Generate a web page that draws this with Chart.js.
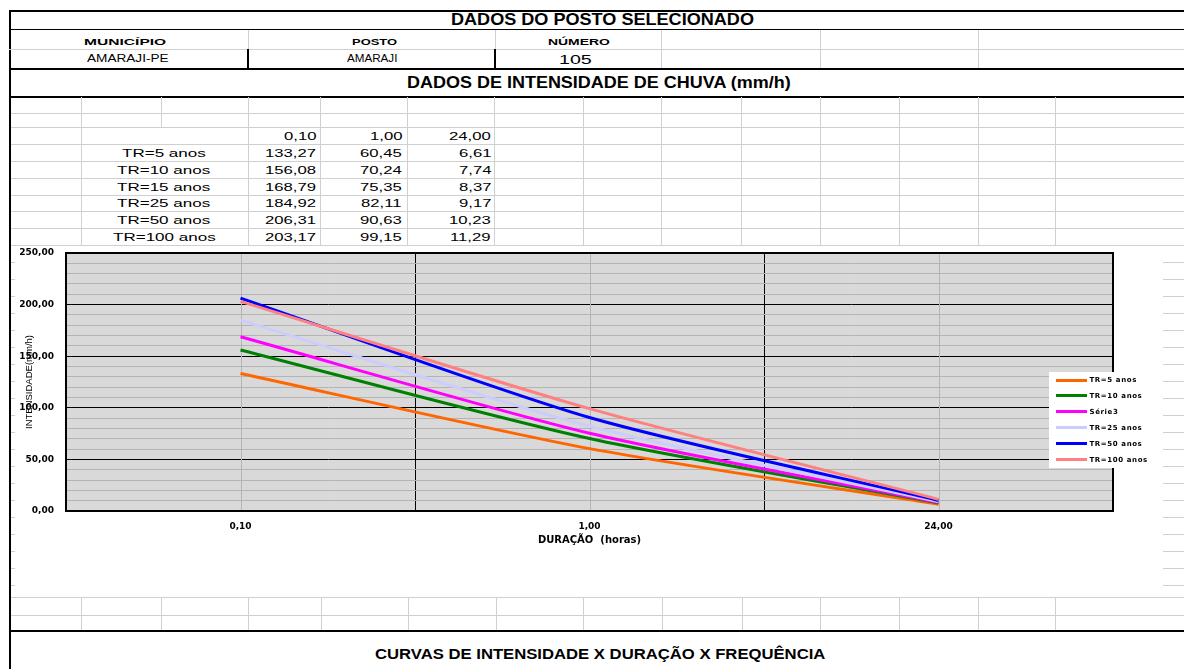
<!DOCTYPE html>
<html>
<head>
<meta charset="utf-8">
<script src="https://cdn.jsdelivr.net/npm/chart.js@4.4.0/dist/chart.umd.min.js"></script>
<style>
html,body{margin:0;padding:0;background:#fff;overflow:hidden;}
#page{position:relative;width:1184px;height:669px;overflow:hidden;font-family:"Liberation Sans",Arial,sans-serif;color:#000;}
.ln{position:absolute;}
.tx{position:absolute;white-space:nowrap;}
#wrap{position:absolute;left:15px;top:246px;width:1148px;height:345px;background:#fff;}
#legenda{position:absolute;left:1049px;top:372px;width:98px;height:96px;background:#fff;}
</style>
</head>
<body>
<div id="page"></div>
<script>
(function(){

// dados do posto
const duracoes = ["0,10", "1,00", "24,00"];
const nomesTabela = ["TR=5 anos", "TR=10 anos", "TR=15 anos", "TR=25 anos", "TR=50 anos", "TR=100 anos"];
const series = ["TR=5 anos", "TR=10 anos", "Série3", "TR=25 anos", "TR=50 anos", "TR=100 anos"];
const tr5   = [133.27, 60.45, 6.61];
const tr10  = [156.08, 70.24, 7.74];
const tr15  = [168.79, 75.35, 8.37];
const tr25  = [184.92, 82.11, 9.17];
const tr50  = [206.31, 90.63, 10.23];
const tr100 = [203.17, 99.15, 11.29];
const valores = [tr5, tr10, tr15, tr25, tr50, tr100];
const cores = ["#ff6600", "#008000", "#ff00ff", "#ccccff", "#0000ff", "#ff8080"];

const page = document.getElementById("page");
const CINZA = "#d0d0d0";

function hl(y, x1, x2, cor, esp){
  const d = document.createElement("div");
  d.className = "ln";
  d.style.cssText = `left:${x1}px;top:${y - esp/2}px;width:${x2 - x1}px;height:${esp}px;background:${cor}`;
  page.appendChild(d);
}
function vl(x, y1, y2, cor, esp){
  const d = document.createElement("div");
  d.className = "ln";
  d.style.cssText = `left:${x - esp/2}px;top:${y1}px;width:${esp}px;height:${y2 - y1}px;background:${cor}`;
  page.appendChild(d);
}
// texto com esticamento horizontal (a planilha aparece esticada)
function tx(str, x, y, fonte, alin, largura, sx){
  const s = document.createElement("span");
  s.className = "tx";
  s.textContent = str;
  s.style.font = fonte;
  s.style.lineHeight = "20px";
  s.style.top = (y - 10) + "px";
  page.appendChild(s);
  const w = s.offsetWidth;
  const k = largura ? largura / w : (sx || 1);
  const wk = w * k;
  let left = x;
  if(alin === "c") left = x - wk/2;
  if(alin === "r") left = x - wk;
  s.style.left = left + "px";
  s.style.transformOrigin = "0 50%";
  s.style.transform = `scaleX(${k})`;
}

// ---- grade da planilha ----
hl(10.5, 9, 1184, "#000", 2);
vl(10, 10, 669, "#000", 2);
hl(29.5, 9, 1184, "#000", 1);
hl(49, 9, 1184, CINZA, 1);
[248, 495].forEach(x => { vl(x, 30, 49, CINZA, 1); vl(x, 49, 68, "#000", 2); });
[661, 820, 978].forEach(x => vl(x, 30, 68, CINZA, 1));
hl(68.5, 9, 1184, "#000", 2);
hl(96.5, 9, 1184, "#000", 2);

const linhas = [113, 127.5, 144.5, 161.5, 178, 195, 211.5, 228.5, 245.5];
linhas.forEach(y => hl(y, 11, 1184, CINZA, 1));
const colunas = [81, 248, 320, 407, 494, 583, 661, 741, 820, 899, 978, 1055];
colunas.forEach(x => vl(x, 97, 246, CINZA, 1));
vl(161, 97, 127.5, CINZA, 1);

for(let y = 262; y < 592; y += 17.05) hl(y, 11, 1184, CINZA, 1);
hl(597.5, 11, 1184, CINZA, 1);
hl(615, 11, 1184, CINZA, 1);
[81, 161, 248, 321, 408, 496, 583, 662, 742, 820, 899, 978, 1055].forEach(x => vl(x, 597, 630, CINZA, 1));
hl(630.5, 9, 1184, "#000", 2);

// ---- textos ----
tx("DADOS DO POSTO SELECIONADO", 602.5, 20, "bold 17px 'Liberation Sans'", "c", 303);
tx("MUNICÍPIO", 124.5, 42, "bold 9.5px 'Liberation Sans'", "c", 82);
tx("POSTO", 374, 42, "bold 9.5px 'Liberation Sans'", "c", 45);
tx("NÚMERO", 578.5, 42, "bold 9.5px 'Liberation Sans'", "c", 61.6);
tx("AMARAJI-PE", 128, 59, "10px 'Liberation Sans'", "c", 81.6);
tx("AMARAJI", 371.7, 59, "10px 'Liberation Sans'", "c", 50);
tx("105", 575.5, 59.5, "12.5px 'Liberation Sans'", "c", 33);
tx("DADOS DE INTENSIDADE DE CHUVA (mm/h)", 599, 83, "bold 17px 'Liberation Sans'", "c", 384);

const fmt = v => v.toFixed(2).replace(".", ",");
const colDir = [316, 402, 491];
const yLin = [136, 153, 170, 186.5, 203, 220, 237];
duracoes.forEach((d, j) => tx(d, colDir[j], yLin[0], "11.5px 'Liberation Sans'", "r", 0, 1.45));
nomesTabela.forEach((n, i) => {
  tx(n, 164, yLin[i + 1], "11.5px 'Liberation Sans'", "c", 0, 1.48);
  valores[i].forEach((v, j) => tx(fmt(v), colDir[j], yLin[i + 1], "11.5px 'Liberation Sans'", "r", 0, 1.45));
});

tx("CURVAS DE INTENSIDADE X DURAÇÃO X FREQUÊNCIA", 600, 654, "bold 14px 'Liberation Sans'", "c", 450);

// ---- gráfico ----
const wrap = document.createElement("div");
wrap.id = "wrap";
wrap.innerHTML = '<canvas id="grafico" width="1148" height="345"></canvas>';
page.appendChild(wrap);

const fundo = {
  id: "fundo",
  beforeDraw(chart){
    const {ctx, chartArea: a} = chart;
    ctx.save();
    ctx.fillStyle = "#fff";
    ctx.fillRect(0, 0, chart.width, chart.height);
    ctx.fillStyle = "#d9d9d9";
    ctx.fillRect(a.left, a.top, a.right - a.left, a.bottom - a.top);
    ctx.restore();
  },
  beforeDatasetsDraw(chart){
    const {ctx, chartArea: a} = chart;
    const x = chart.scales.x;
    ctx.save();
    ctx.strokeStyle = "#b4b4b4";
    ctx.lineWidth = 1;
    x.ticks.forEach((t, i) => {
      const px = Math.round(x.getPixelForTick(i)) + 0.5;
      ctx.beginPath();
      ctx.moveTo(px, a.top);
      ctx.lineTo(px, a.bottom);
      ctx.stroke();
    });
    ctx.strokeStyle = "#000";
    ctx.lineWidth = 2;
    ctx.strokeRect(a.left, a.top, a.right - a.left, a.bottom - a.top);
    ctx.restore();
  }
};

const fonteEixo = {family: "'DejaVu Sans'", size: 9, weight: "bold"};

new Chart(document.getElementById("grafico"), {
  type: "line",
  data: {
    labels: duracoes,
    datasets: series.map((nome, i) => ({
      label: nome,
      data: valores[i],
      borderColor: cores[i],
      backgroundColor: cores[i],
      borderWidth: 3,
      pointRadius: 0,
      tension: 0.25,
      fill: false,
      order: series.length - 1 - i
    }))
  },
  options: {
    responsive: false,
    animation: false,
    devicePixelRatio: 1,
    layout: {padding: {top: 7, right: 50, bottom: 45, left: 0}},
    plugins: {legend: {display: false}, tooltip: {enabled: false}},
    scales: {
      x: {
        offset: true,
        afterFit: s => { s.height = 35; },
        grid: {offset: true, color: "#000", lineWidth: 1, drawTicks: false},
        border: {display: true, color: "#000", width: 2},
        ticks: {font: fonteEixo, color: "#000", padding: 10},
        title: {display: true, text: "DURAÇÃO  (horas)", color: "#000",
                font: {family: "'DejaVu Sans'", size: 10, weight: "bold"}, padding: {top: 2, bottom: 0}}
      },
      y: {
        min: 0, max: 250,
        afterFit: s => { s.width = 51; s.paddingTop = 5; s.paddingBottom = 5; },
        grid: {color: c => (c.tick && c.tick.value % 50 === 0) ? "#000" : "#b4b4b4", lineWidth: 1, drawTicks: false},
        border: {display: true, color: "#000", width: 2},
        ticks: {stepSize: 10, autoSkip: false, padding: 12, font: fonteEixo, color: "#000",
                callback: v => v % 50 === 0 ? fmt(v) : ""},
        title: {display: true, text: "INTENSIDADE(mm/h)", color: "#000",
                font: {family: "'Liberation Sans'", size: 9.5, weight: "normal"}, padding: {top: 9, bottom: 0}}
      }
    }
  },
  plugins: [fundo]
});

// legenda sobreposta
const leg = document.createElement("div");
leg.id = "legenda";
series.forEach((nome, i) => {
  const cy = 8 + 15.9 * i;
  const amostra = document.createElement("div");
  amostra.style.cssText = `position:absolute;left:7px;top:${cy - 1.5}px;width:31px;height:3px;background:${cores[i]}`;
  const t = document.createElement("span");
  t.textContent = nome;
  t.style.cssText = `position:absolute;left:40.5px;top:${cy - 5}px;font:bold 7px 'DejaVu Sans';line-height:10px;white-space:nowrap;letter-spacing:0.6px`;
  leg.appendChild(amostra);
  leg.appendChild(t);
});
page.appendChild(leg);

})();
</script>
</body>
</html>
